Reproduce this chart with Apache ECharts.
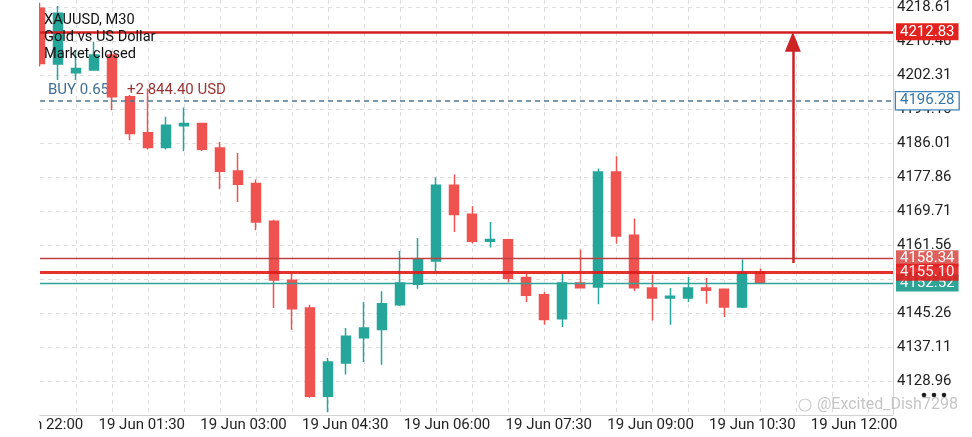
<!DOCTYPE html>
<html><head><meta charset="utf-8">
<script src="https://cdn.jsdelivr.net/npm/echarts@6/dist/echarts.min.js"></script>
<style>html,body{margin:0;padding:0;background:#fff}#c{width:972px;height:437px}</style>
</head><body><div id="c"></div>
<script>
// candle positions (bar index, 30-minute bars)
const candleIndex = [-1,0,1,2,3,4,5,6,7,8,9,10,11,12,13,14,15,16,17,18,19,20,21,22,23,24,25,26,27,28,29,30,31,32,33,34,35,36,37,38,39];
const opens  = [4218.46,4205.07,4202.98,4203.63,4207.24,4197.21,4188.56,4185.05,4190.24,4190.82,4184.95,4179.42,4176.39,4167.33,4153.15,4146.49,4125.34,4133.27,4139.38,4141.37,4147.31,4152.19,4157.79,4175.99,4169.01,4162.52,4162.88,4153.80,4149.71,4143.94,4152.50,4151.54,4179.18,4163.97,4151.30,4148.89,4148.89,4151.30,4150.99,4146.73,4155.14];
const closes = [4205.24,4217.26,4204.04,4207.24,4197.21,4188.41,4185.05,4190.41,4190.82,4184.64,4179.35,4176.23,4167.16,4153.22,4146.35,4125.34,4133.51,4139.69,4141.68,4147.55,4152.50,4158.13,4175.99,4168.94,4162.52,4162.93,4153.63,4149.54,4143.77,4152.50,4151.39,4179.18,4163.80,4151.39,4148.89,4149.30,4151.30,4150.75,4146.73,4154.90,4152.52];
const lows   = [4204.50,4201.23,4201.23,4203.50,4194.00,4186.80,4184.57,4184.57,4184.16,4184.23,4175.02,4171.97,4165.17,4146.49,4141.30,4124.95,4121.49,4130.55,4133.51,4132.88,4147.00,4151.15,4155.14,4164.76,4161.97,4161.01,4152.67,4147.93,4142.50,4141.92,4151.20,4147.38,4161.97,4150.58,4143.53,4142.50,4147.93,4147.55,4144.33,4146.50,4152.40];
const highs  = [4219.80,4219.00,4208.44,4210.43,4208.20,4197.62,4199.23,4192.40,4194.66,4190.89,4186.39,4183.75,4177.36,4167.69,4154.76,4147.31,4134.47,4141.68,4147.93,4150.51,4160.19,4163.32,4177.84,4178.56,4170.94,4167.16,4163.13,4154.76,4150.34,4154.90,4160.53,4180.00,4182.96,4167.98,4154.52,4151.30,4153.94,4153.70,4151.10,4158.13,4155.96];

const timeLabels = ['18 Jun 22:00','19 Jun 01:30','19 Jun 03:00','19 Jun 04:30','19 Jun 06:00','19 Jun 07:30','19 Jun 09:00','19 Jun 10:30','19 Jun 12:00'];
const priceTickLabels = ['4128.96','4137.11','4145.26','4153.41','4161.56','4169.71','4177.86','4186.01','4194.16','4202.31','4210.46','4218.61'];

// horizontal price levels
const bidLevel = 4152.52;
const slLevel = 4158.34;
const curLevel = 4155.10;
const tpLevel = 4212.83;
const openLevel = 4196.28;
// arrow object (bar position, price from / to)
const arrowX = 40.8;
const arrowFrom = 4157.3;
const arrowTo = 4210.43;

const xMin = -1, xMax = 46.36, labelStep = 5.65;
const yMin = 4120.81, yMax = 4220.46, yStep = 8.15;

const UP = '#26a69a', DOWN = '#ef5350';

const candleData = candleIndex.map((x, i) => [x, opens[i], closes[i], lows[i], highs[i]]);

const chart = echarts.init(document.getElementById('c'), null, {renderer: 'canvas'});
const FONT = 'Roboto';
chart.setOption({
  animation: false,
  textStyle: {fontFamily: FONT},
  grid: {left: 40, right: 79, top: 0, bottom: 22, containLabel: false, outerBoundsMode: 'none'},
  xAxis: [{
    type: 'value', min: xMin, max: xMax, interval: 2,
    axisLine: {show: true, onZero: false, lineStyle: {color: '#d2d2d2', width: 1}},
    axisTick: {show: false},
    axisLabel: {show: false},
    splitLine: {show: true, showMinLine: false, showMaxLine: false, lineStyle: {color: '#dddddd', type: [4, 4], width: 1}}
  }, {
    type: 'value', position: 'bottom', min: xMin, max: xMax, interval: labelStep,
    axisLine: {show: false, onZero: false}, axisTick: {show: false}, splitLine: {show: false},
    axisLabel: {
      show: true, color: '#222', fontSize: 15, margin: 3, fontFamily: FONT,
      showMinLabel: true, showMaxLabel: true, hideOverlap: false,
      formatter: function (v) {
        const k = (v - xMin) / labelStep;
        const r = Math.round(k);
        if (Math.abs(k - r) > 0.01 || r < 0 || r >= timeLabels.length) return '';
        return timeLabels[r];
      }
    }
  }],
  yAxis: {
    type: 'value', position: 'right', min: yMin, max: yMax, interval: yStep,
    axisLine: {show: true, onZero: false, lineStyle: {color: '#d2d2d2', width: 1}},
    axisTick: {show: false},
    axisLabel: {
      show: true, color: '#222', fontSize: 15, margin: 4, fontFamily: FONT,
      formatter: function (v) {
        const k = Math.round((v - yMin) / yStep) - 1;
        if (Math.abs((v - yMin) / yStep - (k + 1)) > 0.01) return '';
        return (k >= 0 && k < priceTickLabels.length) ? priceTickLabels[k] : '';
      }
    },
    splitLine: {show: true, showMaxLine: false, showMinLine: false, lineStyle: {color: '#dddddd', type: [4, 4], width: 1}}
  },
  series: [{
    type: 'candlestick',
    xAxisIndex: 0, yAxisIndex: 0,
    data: candleData,
    barWidth: 9.5,
    clip: true,
    z: 2,
    itemStyle: {color: UP, color0: DOWN, borderColor: UP, borderColor0: DOWN, borderWidth: 1.5},
    markLine: {
      silent: true, animation: false, symbol: ['none', 'none'], z: 5,
      label: {
        show: true, position: 'end', distance: 3, color: '#fff', fontSize: 15, fontFamily: FONT,
        padding: [1, 4, 0, 4], lineHeight: 16,
        formatter: function (p) { return Number(p.value).toFixed(2); }
      },
      data: [
        {yAxis: bidLevel, lineStyle: {color: '#2ea396', width: 1.3, type: 'solid'}, label: {backgroundColor: '#2ea396'}},
        {yAxis: slLevel, lineStyle: {color: '#c04040', width: 1.3, type: 'solid'}, label: {backgroundColor: '#dd625d'}},
        {yAxis: curLevel, lineStyle: {color: '#e01b1b', width: 3, type: 'solid', opacity: 0.9}, label: {backgroundColor: '#e21d1d'}},
        {yAxis: tpLevel, lineStyle: {color: '#d41e1e', width: 2.5, type: 'solid'}, label: {backgroundColor: '#e2221e'}},
        {yAxis: openLevel, lineStyle: {color: '#4f7590', width: 1.5, type: [5, 4]},
          label: {backgroundColor: '#ffffff', color: '#3577ad', borderColor: '#3d82b8', borderWidth: 1.3}},
        [
          {coord: [arrowX, arrowFrom], symbol: 'none'},
          {coord: [arrowX, arrowTo], symbol: 'triangle', symbolSize: [16, 20],
            lineStyle: {color: '#cc2323', width: 2.5, type: 'solid'}, label: {show: false}}
        ]
      ]
    }
  }],
  graphic: [
    {type: 'text', x: 44, y: 20.5, z: 10, style: {text: 'XAUUSD, M30', font: '14.6px Roboto', fill: '#111', verticalAlign: 'middle'}},
    {type: 'text', x: 44, y: 37.5, z: 10, style: {text: 'Gold vs US Dollar', font: '14.6px Roboto', fill: '#111', verticalAlign: 'middle'}},
    {type: 'text', x: 44, y: 54.5, z: 10, style: {text: 'Market closed', font: '14.6px Roboto', fill: '#111', verticalAlign: 'middle'}},
    {type: 'text', x: 48, y: 90, z: 1, style: {text: 'BUY 0.65', font: '15px Roboto', fill: '#3f6f93', verticalAlign: 'middle'}},
    {type: 'text', x: 127, y: 90, z: 1, style: {text: '+2 844.40 USD', font: '15px Roboto', fill: '#9a3434', verticalAlign: 'middle'}},
    {type: 'text', x: 817, y: 405, z: 10, style: {text: '@Excited_Dish7298', font: '16px Roboto', fill: '#c6c6c6', verticalAlign: 'middle'}},
    {type: 'circle', x: 805, y: 405, z: 10, shape: {cx: 0, cy: 0, r: 6}, style: {fill: 'none', stroke: '#cfcfcf', lineWidth: 1.2}},
    {type: 'circle', x: 924, y: 395, z: 10, shape: {cx: 0, cy: 0, r: 2.3}, style: {fill: '#222'}},
    {type: 'circle', x: 934, y: 395, z: 10, shape: {cx: 0, cy: 0, r: 2.3}, style: {fill: '#222'}},
    {type: 'circle', x: 944, y: 395, z: 10, shape: {cx: 0, cy: 0, r: 2.3}, style: {fill: '#222'}},
    {type: 'rect', x: 0, y: 0, z: 100, shape: {x: 0, y: 0, width: 39, height: 437}, style: {fill: '#ffffff'}}
  ]
});
</script>
</body></html>
